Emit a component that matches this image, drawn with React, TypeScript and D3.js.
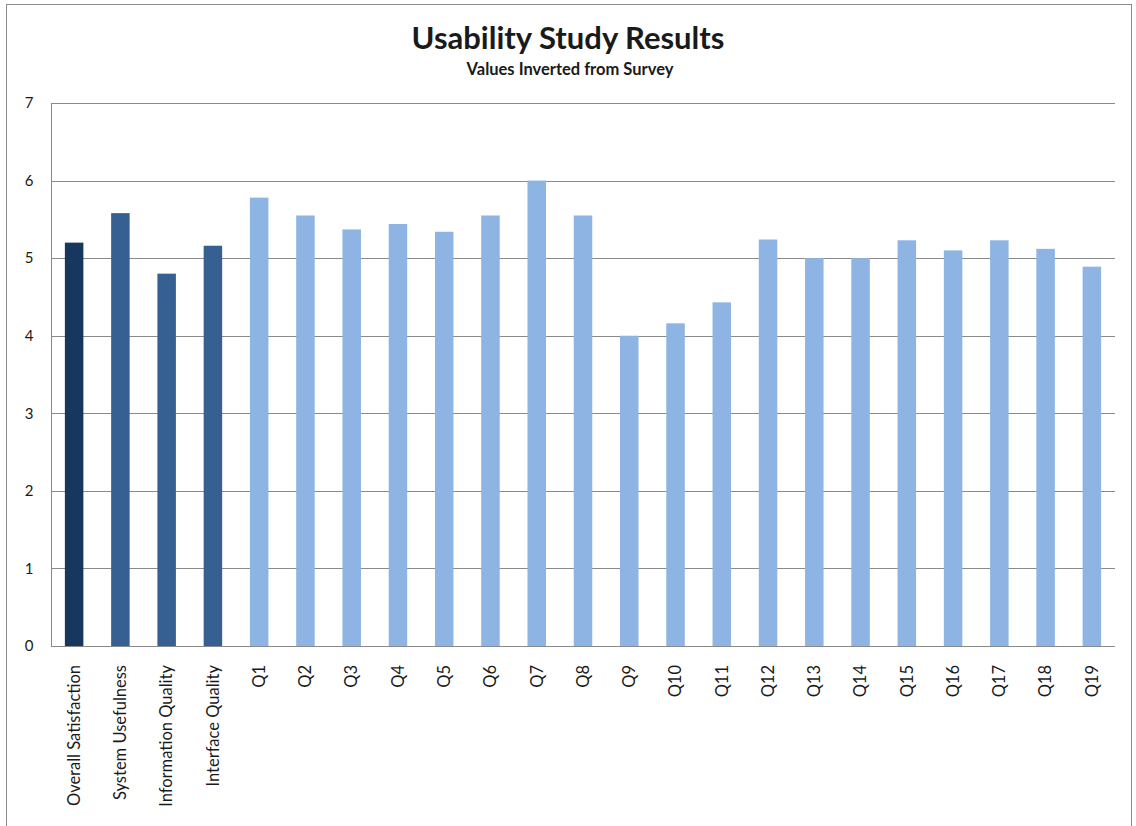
import * as d3 from 'd3';

const categories = [
  'Overall Satisfaction', 'System Usefulness', 'Information Quality', 'Interface Quality',
  'Q1', 'Q2', 'Q3', 'Q4', 'Q5', 'Q6', 'Q7', 'Q8', 'Q9', 'Q10',
  'Q11', 'Q12', 'Q13', 'Q14', 'Q15', 'Q16', 'Q17', 'Q18', 'Q19',
];
const values = [
  5.2, 5.58, 4.8, 5.16,
  5.78, 5.55, 5.37, 5.44, 5.34, 5.55, 6.0, 5.55, 4.0, 4.16,
  4.43, 5.24, 5.0, 5.0, 5.23, 5.1, 5.23, 5.12, 4.89,
];
// 0 = overall, 1 = subscale, 2 = question
const groups = [0, 1, 1, 1, 2, 2, 2, 2, 2, 2, 2, 2, 2, 2, 2, 2, 2, 2, 2, 2, 2, 2, 2];
const yTicks = [0, 1, 2, 3, 4, 5, 6, 7];

const groupColors = ['#17375E', '#366092', '#8DB4E2'];
const W = 1136;
const H = 826;
const plot = { left: 51, right: 1115, top: 103, bottom: 646 };
const font = 'Lato, "Open Sans", sans-serif';

export default function App() {
  const x = d3
    .scaleBand<string>()
    .domain(categories)
    .range([plot.left, plot.right])
    .paddingInner(0.6)
    .paddingOuter(0.3);
  const y = d3.scaleLinear().domain([0, 7]).range([plot.bottom, plot.top]);

  return (
    <svg
      width={W}
      height={H}
      style={{ position: 'absolute', left: 0, top: 0, background: '#fff' }}
      fontFamily={font}
    >
      {/* chart border */}
      <rect x={6.5} y={4.5} width={1125} height={H + 10} fill="none" stroke="#8c8c8c" />

      <text x={568} y={49} textAnchor="middle" fontSize={31} fontWeight="bold" fill="#1a1a1a">
        Usability Study Results
      </text>
      <text x={570} y={75} textAnchor="middle" fontSize={16.5} fontWeight="bold" fill="#1a1a1a">
        Values Inverted from Survey
      </text>

      {/* gridlines */}
      {yTicks.map((t) => (
        <g key={t}>
          <line
            x1={plot.left}
            x2={plot.right}
            y1={Math.round(y(t)) + 0.5}
            y2={Math.round(y(t)) + 0.5}
            stroke="#8a8a8a"
          />
          <text x={29} y={y(t)} dy="0.35em" textAnchor="middle" fontSize={15} fill="#1a1a1a">
            {t}
          </text>
        </g>
      ))}
      <line x1={plot.left + 0.5} x2={plot.left + 0.5} y1={plot.top} y2={plot.bottom} stroke="#8a8a8a" />

      {/* bars */}
      {categories.map((c, i) => (
        <rect
          key={c}
          x={x(c)}
          y={y(values[i])}
          width={x.bandwidth()}
          height={y(0) - y(values[i])}
          fill={groupColors[groups[i]]}
        />
      ))}

      {/* x labels */}
      {categories.map((c) => {
        const cx = (x(c) ?? 0) + x.bandwidth() / 2;
        return (
          <text
            key={c}
            transform={`translate(${cx},665) rotate(-90)`}
            dy="0.35em"
            textAnchor="end"
            fontSize={16.5}
            fill="#1a1a1a"
          >
            {c}
          </text>
        );
      })}
    </svg>
  );
}
